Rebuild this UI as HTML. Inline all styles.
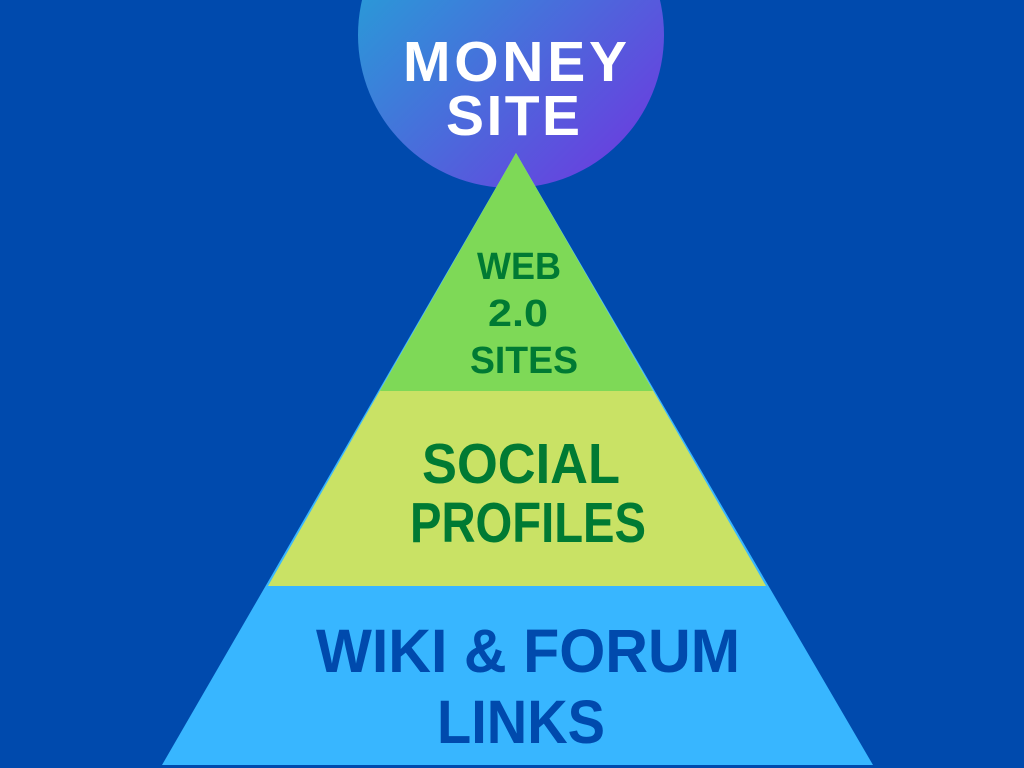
<!DOCTYPE html>
<html><head><style>
html,body{margin:0;padding:0;background:#004AAD;}
svg{display:block}
</style></head><body>
<svg width="1024" height="768" viewBox="0 0 1024 768" xmlns="http://www.w3.org/2000/svg">
<defs>
<linearGradient id="g" x1="0" y1="0" x2="1" y2="1">
<stop offset="0" stop-color="#1AB0D6"/>
<stop offset="1" stop-color="#7232E0"/>
</linearGradient>
</defs>
<rect width="1024" height="768" fill="#004AAD"/>
<circle cx="511" cy="35" r="153" fill="url(#g)"/>
<polygon points="516,153 873,765 162,765" fill="#38B6FF"/>
<polygon points="516,153 766,586 268,586" fill="#C9E265"/>
<polygon points="516,153 653,391 380,391" fill="#7ED957"/>
<g font-family="Liberation Sans, sans-serif" font-weight="bold" text-anchor="middle">
<text x="515" y="81" font-size="57" fill="#fff" textLength="224" lengthAdjust="spacing">MONEY</text>
<text x="513" y="135" font-size="57" fill="#fff" textLength="134" lengthAdjust="spacing">SITE</text>
<text x="519" y="279" font-size="38" fill="#007A33" textLength="84" lengthAdjust="spacingAndGlyphs">WEB</text>
<text x="518" y="326" font-size="38" fill="#007A33" textLength="60" lengthAdjust="spacingAndGlyphs">2.0</text>
<text x="524" y="373" font-size="38" fill="#007A33" textLength="108" lengthAdjust="spacingAndGlyphs">SITES</text>
<text x="521" y="483" font-size="57" fill="#007A33" textLength="198" lengthAdjust="spacingAndGlyphs">SOCIAL</text>
<text x="528" y="542" font-size="57" fill="#007A33" textLength="236" lengthAdjust="spacingAndGlyphs">PROFILES</text>
<text x="528" y="672" font-size="61" fill="#004AAD" textLength="424" lengthAdjust="spacingAndGlyphs">WIKI &amp; FORUM</text>
<text x="521" y="743" font-size="61" fill="#004AAD" textLength="168" lengthAdjust="spacingAndGlyphs">LINKS</text>
</g>
</svg>
</body></html>
